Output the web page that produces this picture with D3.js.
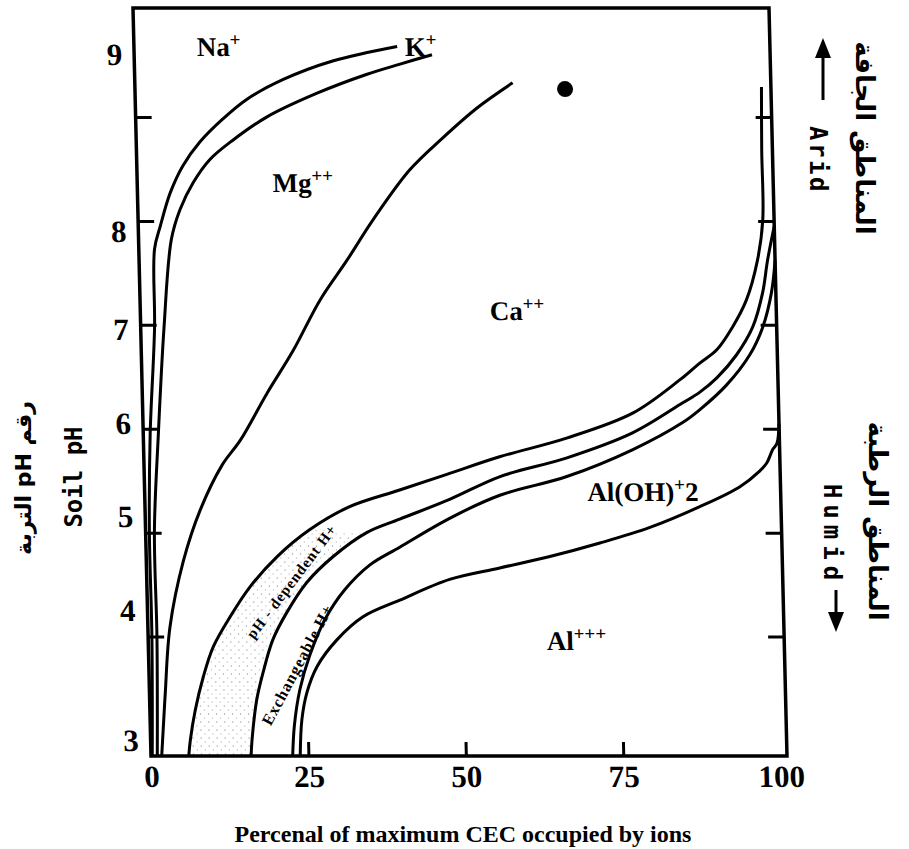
<!DOCTYPE html>
<html>
<head>
<meta charset="utf-8">
<script src="https://cdn.jsdelivr.net/npm/d3@7"></script>
<style>
  body { margin: 0; background: #fff; }
  svg { display: block; }
</style>
</head>
<body>
<svg id="chart"></svg>
<script>
// values: [percent of max CEC, soil pH]
const xTicks = [25, 50, 75];
const xLabels = [0, 25, 50, 75, 100];
const yTicks = [4, 5, 6, 7, 8, 9];
const yLabelText = ['3', '4', '5', '6', '7', '8', '9'];
const yLabelValues = [3, 4.25, 5.15, 6.05, 6.95, 7.9, 9.6];

// Na+ / K+ boundary
const naK = [[41.8, 9.68], [31.5, 9.54], [23.5, 9.36], [17.7, 9.17], [13.8, 8.98], [10.1, 8.76],
  [7.3, 8.53], [5.2, 8.27], [3.5, 7.95], [2.5, 7.73], [2.2, 6.97], [1.1, 5.95], [0.6, 5.01],
  [0.6, 4.0], [0.2, 2.85]];
// K+ / Mg++ boundary
const kMg = [[47.3, 9.60], [42.2, 9.51], [36.8, 9.41], [28.9, 9.23], [20.8, 9.0], [15.4, 8.78],
  [11.6, 8.59], [8.9, 8.37], [6.7, 8.11], [5.2, 7.82], [3.7, 6.97], [2.4, 5.95], [1.4, 5.01],
  [1.4, 4.0], [1.0, 2.85]];
// Mg++ / Ca++ boundary
const mgCa = [[60.0, 9.33], [54.3, 9.09], [48.7, 8.80], [43.3, 8.49], [37.3, 8.01], [33.0, 7.62],
  [28.6, 7.24], [24.1, 6.75], [19.8, 6.34], [15.4, 5.89], [12.4, 5.65], [8.7, 5.21], [5.9, 4.73],
  [3.5, 4.09], [2.5, 3.45], [1.9, 3.0], [1.7, 2.85]];
// Ca++ / pH-dependent H+ boundary
const caH = [[6.0, 2.85], [6.3, 3.0], [7.2, 3.29], [8.6, 3.61], [10.3, 3.9], [13.1, 4.19],
  [16.4, 4.48], [20.8, 4.77], [26.1, 5.03], [32.5, 5.25], [40.5, 5.41], [48.5, 5.57],
  [56.5, 5.73], [67.2, 5.91], [77.8, 6.15], [85.4, 6.47], [88.6, 6.63], [91.4, 6.76],
  [94.0, 6.98], [96.3, 7.24], [98.2, 7.62], [99.2, 8.01], [99.3, 8.68], [99.5, 9.29]];
// pH-dependent H+ / exchangeable H+ boundary
const depExch = [[15.9, 2.85], [16.1, 3.0], [17.0, 3.39], [18.1, 3.65], [19.8, 3.97], [22.1, 4.23],
  [25.4, 4.52], [29.7, 4.77], [35.1, 5.0], [40.4, 5.13], [48.4, 5.32], [56.5, 5.54],
  [67.2, 5.72], [77.7, 5.96], [85.8, 6.25], [88.5, 6.35], [91.3, 6.49], [94.5, 6.71],
  [97.2, 6.98], [98.9, 7.31], [99.8, 7.62], [101, 7.95]];
// exchangeable H+ / Al(OH)+2 boundary
const exchAlOH = [[22.5, 2.85], [22.9, 3.15], [23.9, 3.49], [25.6, 3.82], [28.1, 4.16], [31.4, 4.45],
  [35.5, 4.69], [40.3, 4.86], [48.4, 5.14], [56.4, 5.36], [67.1, 5.54], [77.7, 5.8],
  [85.7, 6.06], [88.4, 6.18], [92.8, 6.42], [96.6, 6.71], [98.8, 6.98], [100.3, 7.31], [101, 7.62]];
// Al(OH)+2 / Al+++ boundary
const alOHAl = [[23.7, 2.85], [24.1, 3.2], [25.0, 3.46], [26.7, 3.71], [30.0, 3.97], [34.2, 4.19],
  [40.1, 4.35], [48.1, 4.55], [56.1, 4.66], [64.1, 4.77], [72.1, 4.9], [80.1, 5.05],
  [88.1, 5.25], [94.5, 5.44], [97.7, 5.59], [98.9, 5.67], [99.9, 5.8], [100.6, 5.86], [101, 6.05]];

const boundaries = [naK, kMg, mgCa, caH, depExch, exchAlOH, alOHAl];

const serif = "'Liberation Serif', 'DejaVu Serif', serif";
const mono = "'DejaVu Sans Mono', 'Liberation Mono', monospace";
const arabic = "'DejaVu Sans', sans-serif";

const svg = d3.select('#chart').attr('width', 909).attr('height', 849);

const x = d3.scaleLinear().domain([0, 101]).range([151, 787]);
const y = d3.scaleLinear().domain([2.85, 10.05]).range([756, 8]);

// the scanned frame leans: its top sits about 18px left of its bottom
const shear = Math.atan(18 / 748) * 180 / Math.PI;
const plot = svg.append('g')
  .attr('transform', `translate(0,${y(2.85)}) skewX(${shear}) translate(0,${-y(2.85)})`);

const line = d3.line()
  .x(d => x(d[0]))
  .y(d => y(d[1]))
  .curve(d3.curveCatmullRom.alpha(0.5));

// light stipple in the low pH-dependent H+ band
const defs = svg.append('defs');
const pat = defs.append('pattern')
  .attr('id', 'stipple')
  .attr('width', 8).attr('height', 8)
  .attr('patternUnits', 'userSpaceOnUse');
pat.append('circle').attr('cx', 1.5).attr('cy', 2).attr('r', 0.7).attr('fill', '#888');
pat.append('circle').attr('cx', 5.5).attr('cy', 6).attr('r', 0.6).attr('fill', '#aaa');

const lowBand = caH.filter(d => d[1] <= 5.05)
  .concat(depExch.filter(d => d[1] <= 5.05).reverse());
plot.append('path')
  .attr('d', d3.line().x(d => x(d[0])).y(d => y(d[1]))(lowBand) + 'Z')
  .attr('fill', 'url(#stipple)')
  .attr('stroke', 'none');

// boundary curves
plot.selectAll('.boundary')
  .data(boundaries)
  .join('path')
    .attr('class', 'boundary')
    .attr('d', line)
    .attr('fill', 'none')
    .attr('stroke', '#000')
    .attr('stroke-width', 3)
    .attr('stroke-linejoin', 'round');

// frame
plot.append('path')
  .attr('d', d3.line().x(d => x(d[0])).y(d => y(d[1]))([[0, 2.85], [0, 10.05], [101, 10.05], [101, 2.85]]) + 'Z')
  .attr('fill', 'none')
  .attr('stroke', '#000')
  .attr('stroke-width', 3.5);

// inward tick marks
const tickStyle = g => {
  g.select('.domain').remove();
  g.selectAll('line').attr('stroke', '#000').attr('stroke-width', 3);
};
plot.append('g')
  .attr('transform', `translate(${x(0)},0)`)
  .call(d3.axisRight(y).tickValues(yTicks).tickSize(16).tickFormat(''))
  .call(tickStyle);
plot.append('g')
  .attr('transform', `translate(${x(101)},0)`)
  .call(d3.axisLeft(y).tickValues(yTicks).tickSize(16).tickFormat(''))
  .call(tickStyle);
plot.append('g')
  .attr('transform', `translate(0,${y(2.85)})`)
  .call(d3.axisTop(x).tickValues(xTicks).tickSize(14).tickFormat(''))
  .call(tickStyle);

// tick labels
const labelStyle = g => {
  g.select('.domain').remove();
  g.selectAll('line').remove();
  g.selectAll('text')
    .attr('fill', '#000')
    .style('font-family', serif)
    .style('font-weight', 'bold')
    .style('font-size', '31px');
};
plot.append('g')
  .attr('transform', `translate(${x(0)},0)`)
  .call(d3.axisLeft(y).tickValues(yLabelValues).tickSize(0).tickPadding(12)
    .tickFormat((d, i) => yLabelText[i]))
  .call(labelStyle);
plot.append('g')
  .attr('transform', `translate(0,${y(2.85)})`)
  .call(d3.axisBottom(x).tickValues(xLabels).tickSize(0).tickPadding(9))
  .call(labelStyle);

// ion labels
const ionLabels = [
  { base: 'Na', sup: '+', at: [10.0, 9.59] },
  { base: 'K', sup: '+', at: [43.0, 9.59] },
  { base: 'Mg', sup: '++', at: [21.5, 8.28] },
  { base: 'Ca', sup: '++', at: [55.5, 7.05] },
  { base: 'Al(OH)', sup: '+', tail: '2', at: [70.3, 5.30] },
  { base: 'Al', sup: '+++', at: [63.3, 3.87] }
];
ionLabels.forEach(l => {
  const t = plot.append('text')
    .attr('x', x(l.at[0]))
    .attr('y', y(l.at[1]))
    .style('font-family', serif)
    .style('font-weight', 'bold')
    .style('font-size', '27px');
  t.append('tspan').text(l.base);
  t.append('tspan').attr('dy', -10).style('font-size', '19px').text(l.sup);
  if (l.tail) t.append('tspan').attr('dy', 10).text(l.tail);
});

// slanted band labels
const bandLabels = [
  { text: 'pH - dependent H+', at: [23.0, 4.53], angle: -52, size: 15 },
  { text: 'Exchangeable H+', at: [23.6, 3.73], angle: -61, size: 16 }
];
bandLabels.forEach(l => {
  plot.append('text')
    .attr('transform', `translate(${x(l.at[0])},${y(l.at[1])}) rotate(${l.angle})`)
    .attr('text-anchor', 'middle')
    .attr('dominant-baseline', 'central')
    .style('font-family', serif)
    .style('font-weight', 'bold')
    .style('font-size', l.size + 'px')
    .style('letter-spacing', '1px')
    .text(l.text);
});

// black dot
plot.append('circle')
  .attr('cx', x(68.3))
  .attr('cy', y(9.27))
  .attr('r', 8)
  .attr('fill', '#000');

// axis titles
svg.append('text')
  .attr('x', 463).attr('y', 842)
  .attr('text-anchor', 'middle')
  .style('font-family', serif)
  .style('font-weight', 'bold')
  .style('font-size', '24px')
  .text('Percenal of maximum CEC occupied by ions');

const sideText = (txt, cx, cy, angle, family, size, spacing, rtl) => {
  const t = svg.append('text')
    .attr('transform', `translate(${cx},${cy}) rotate(${angle})`)
    .attr('text-anchor', 'middle')
    .attr('dominant-baseline', 'central')
    .style('font-family', family)
    .style('font-weight', 'bold')
    .style('font-size', size + 'px')
    .style('letter-spacing', spacing + 'px')
    .text(txt);
  if (rtl) t.attr('direction', 'rtl').style('unicode-bidi', 'embed');
  return t;
};

sideText('Soil pH', 74, 477, -90, mono, 24, 0, false);
sideText('رقم pH التربة', 23, 478, -90, arabic, 22, 0, true);

sideText('Arid', 818, 160, 90, mono, 24, 2.5, false);
sideText('المناطق الجافة', 865, 138, 90, arabic, 26, 0, true);
sideText('Humid', 832, 535, 90, mono, 24, 6, false);
sideText('المناطق الرطبة', 878, 521, 90, arabic, 26, 0, true);

// arrows beside Arid (up) and Humid (down)
const arrows = [
  { x: 823, from: 100, to: 38 },
  { x: 836, from: 590, to: 632 }
];
arrows.forEach(a => {
  const dir = Math.sign(a.to - a.from);
  svg.append('line')
    .attr('x1', a.x).attr('x2', a.x)
    .attr('y1', a.from).attr('y2', a.to - dir * 14)
    .attr('stroke', '#000').attr('stroke-width', 3);
  svg.append('path')
    .attr('d', `M${a.x},${a.to} L${a.x - 8},${a.to - dir * 20} L${a.x + 8},${a.to - dir * 20} Z`)
    .attr('fill', '#000');
});
</script>
</body>
</html>
